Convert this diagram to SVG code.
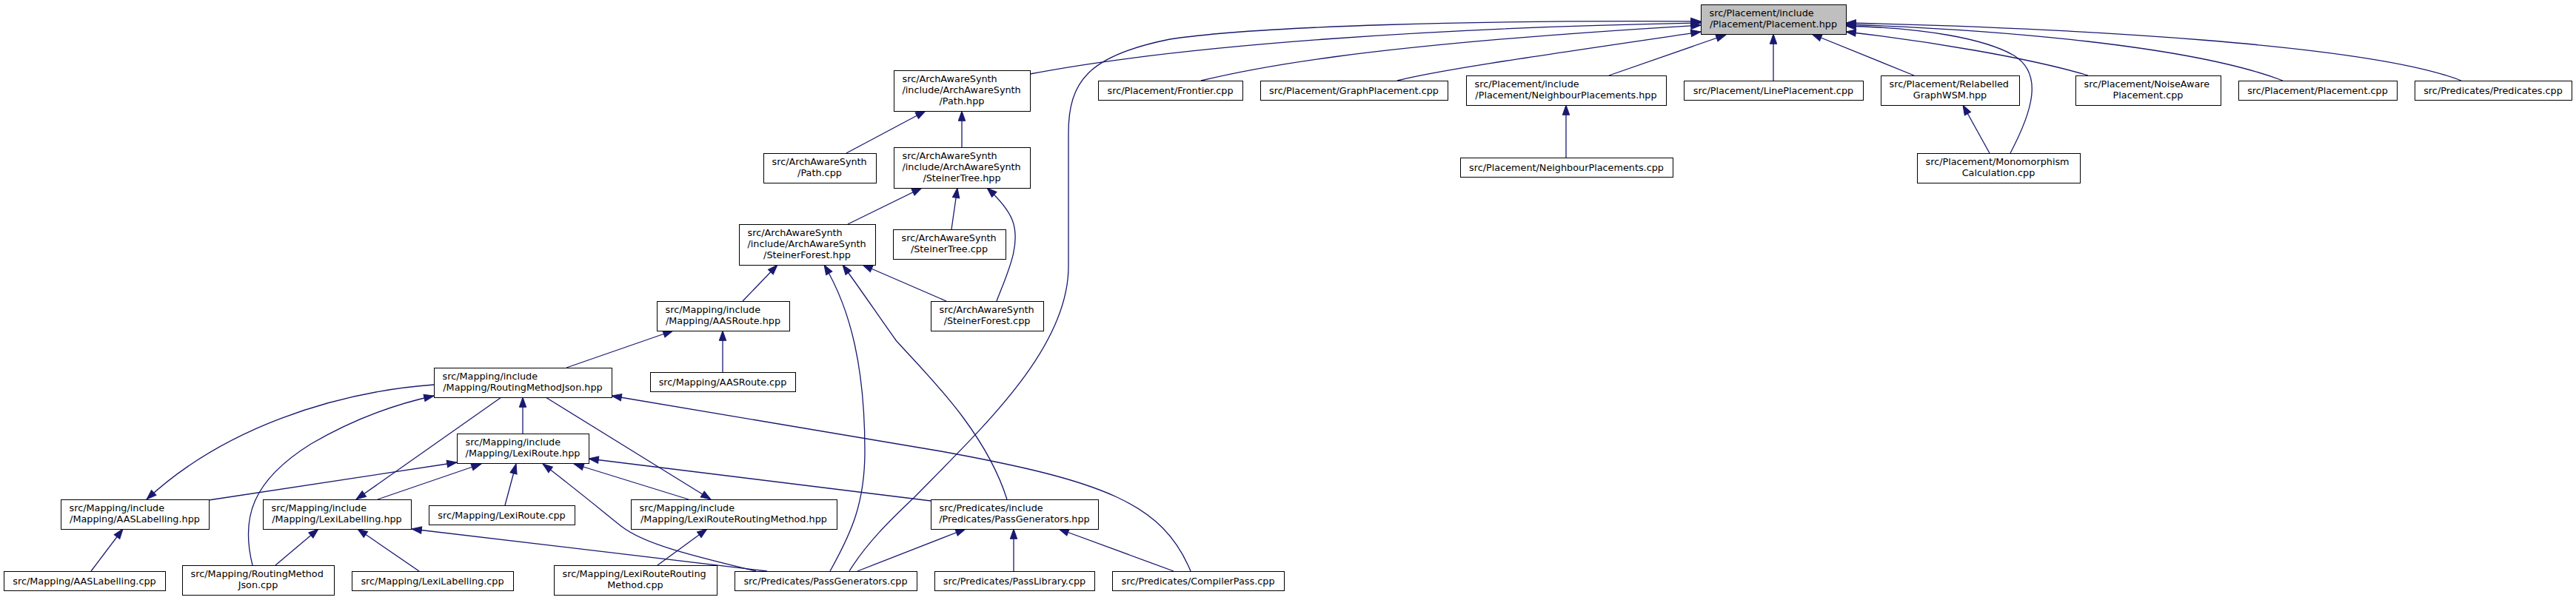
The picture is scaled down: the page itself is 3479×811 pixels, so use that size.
<svg xmlns="http://www.w3.org/2000/svg" width="3479" height="811" viewBox="0 0 3479 811">
<style>
.node rect{fill:#fff;stroke:#000;stroke-width:1}
#n1 rect{fill:#bfbfbf}
text{font-family:"DejaVu Sans","Liberation Sans",sans-serif;font-size:12.8px;fill:#000}
.c{text-anchor:middle}
.edges path{fill:none;stroke:#191970;stroke-width:1.3;marker-end:url(#arr)}
</style>
<defs>
<marker id="arr" markerUnits="userSpaceOnUse" markerWidth="15" markerHeight="11" refX="13.3" refY="4.7" orient="auto" overflow="visible">
<path d="M0,0 L13.3,4.7 L0,9.4 Z" fill="#191970" stroke="#191970" stroke-width="1"/>
</marker>
</defs>
<rect width="3479" height="811" fill="#fff"/>
<g class="edges">
<path d="M1391,100 C1600,60 1950,37 2297,31"/>
<path d="M1147,772 C1170,735 1200,705 1234,673 C1330,575 1443,470 1443,360 L1443,180 C1443,110 1470,75 1580,53 C1700,35 2000,27 2297,29"/>
<path d="M1622,109 C1680,95 1820,62 2297,34"/>
<path d="M1887,109 C1940,95 2080,75 2297,43"/>
<path d="M2173,102 L2331,47"/>
<path d="M2115,213 L2115,142"/>
<path d="M2395,109 L2395,46"/>
<path d="M2585,102 L2447,46"/>
<path d="M2687,207 L2651,142"/>
<path d="M2715,207 C2745,150 2760,100 2720,75 C2680,52 2600,38 2493,35"/>
<path d="M2820,102 C2740,78 2600,55 2493,43"/>
<path d="M3083,109 C2960,62 2700,40 2493,33"/>
<path d="M3324,109 C3200,60 2800,38 2493,31"/>
<path d="M1143,207 L1250,150"/>
<path d="M1299,199 L1299,150"/>
<path d="M1145,303 L1245,254"/>
<path d="M1285,310 L1293,254"/>
<path d="M1346,407 C1360,370 1380,330 1367,297 C1360,280 1345,265 1333,254"/>
<path d="M1003,407 L1050,358"/>
<path d="M1278,407 L1165,358"/>
<path d="M1360,675 C1330,580 1250,505 1210,460 C1185,425 1165,395 1138,358"/>
<path d="M1121,772 C1150,720 1168,680 1168,610 C1168,500 1150,420 1113,358"/>
<path d="M976,503 L976,447"/>
<path d="M765,497 L909,447"/>
<path d="M706,586 L706,537"/>
<path d="M677,537 L481,675"/>
<path d="M737,537 L960,675"/>
<path d="M586,520 C450,530 300,580 198,675"/>
<path d="M341,764 C325,700 340,650 420,600 C480,565 540,545 586,535"/>
<path d="M1608,772 C1570,680 1490,650 1271,610 L826,535"/>
<path d="M282,676 L617,625"/>
<path d="M510,675 L650,627"/>
<path d="M682,683 L697,627"/>
<path d="M1021,772 C930,750 870,735 840,712 C815,692 770,655 733,627"/>
<path d="M930,675 L775,627"/>
<path d="M1257,677 L795,620"/>
<path d="M123,772 L166,715"/>
<path d="M372,764 L430,715"/>
<path d="M566,772 L483,715"/>
<path d="M1036,772 L556,715"/>
<path d="M888,764 L955,715"/>
<path d="M1158,772 L1304,715"/>
<path d="M1369,772 L1369,715"/>
<path d="M1585,772 L1430,715"/>
</g>
<g id="n1" class="node"><rect x="2297.5" y="6.5" width="196" height="40"/><text x="2308.5" y="22">src/Placement/include</text><text class="c" x="2395" y="37">/Placement/Placement.hpp</text></g>
<g id="n2" class="node"><rect x="1207.5" y="95.5" width="184" height="55"/><text x="1218.5" y="111">src/ArchAwareSynth</text><text x="1218.5" y="126">/include/ArchAwareSynth</text><text class="c" x="1299" y="141">/Path.hpp</text></g>
<g id="n3" class="node"><rect x="1483.5" y="109.5" width="195" height="26"/><text class="c" x="1580.5" y="126.5">src/Placement/Frontier.cpp</text></g>
<g id="n4" class="node"><rect x="1702.5" y="109.5" width="253" height="26"/><text class="c" x="1828.5" y="126.5">src/Placement/GraphPlacement.cpp</text></g>
<g id="n5" class="node"><rect x="1980.5" y="102.5" width="270" height="40"/><text x="1991.5" y="118">src/Placement/include</text><text class="c" x="2115" y="133">/Placement/NeighbourPlacements.hpp</text></g>
<g id="n6" class="node"><rect x="2274.5" y="109.5" width="242" height="26"/><text class="c" x="2395" y="126.5">src/Placement/LinePlacement.cpp</text></g>
<g id="n7" class="node"><rect x="2540.5" y="102.5" width="187" height="40"/><text x="2551.5" y="118">src/Placement/Relabelled</text><text class="c" x="2633.5" y="133">GraphWSM.hpp</text></g>
<g id="n8" class="node"><rect x="2803.5" y="102.5" width="196" height="40"/><text x="2814.5" y="118">src/Placement/NoiseAware</text><text class="c" x="2901" y="133">Placement.cpp</text></g>
<g id="n9" class="node"><rect x="3023.5" y="109.5" width="214" height="26"/><text class="c" x="3130" y="126.5">src/Placement/Placement.cpp</text></g>
<g id="n10" class="node"><rect x="3261.5" y="109.5" width="212" height="26"/><text class="c" x="3367" y="126.5">src/Predicates/Predicates.cpp</text></g>
<g id="n11" class="node"><rect x="1031.5" y="207.5" width="152" height="40"/><text x="1042.5" y="223">src/ArchAwareSynth</text><text class="c" x="1107" y="238">/Path.cpp</text></g>
<g id="n12" class="node"><rect x="1207.5" y="199.5" width="184" height="55"/><text x="1218.5" y="215">src/ArchAwareSynth</text><text x="1218.5" y="230">/include/ArchAwareSynth</text><text class="c" x="1299" y="245">/SteinerTree.hpp</text></g>
<g id="n13" class="node"><rect x="1972.5" y="213.5" width="287" height="26"/><text class="c" x="2115.5" y="230.5">src/Placement/NeighbourPlacements.cpp</text></g>
<g id="n14" class="node"><rect x="2589.5" y="207.5" width="220" height="40"/><text x="2600.5" y="223">src/Placement/Monomorphism</text><text class="c" x="2699" y="238">Calculation.cpp</text></g>
<g id="n15" class="node"><rect x="998.5" y="303.5" width="184" height="55"/><text x="1009.5" y="319">src/ArchAwareSynth</text><text x="1009.5" y="334">/include/ArchAwareSynth</text><text class="c" x="1090" y="349">/SteinerForest.hpp</text></g>
<g id="n16" class="node"><rect x="1206.5" y="310.5" width="152" height="40"/><text x="1217.5" y="326">src/ArchAwareSynth</text><text class="c" x="1282" y="341">/SteinerTree.cpp</text></g>
<g id="n17" class="node"><rect x="887.5" y="407.5" width="179" height="40"/><text x="898.5" y="423">src/Mapping/include</text><text class="c" x="976.5" y="438">/Mapping/AASRoute.hpp</text></g>
<g id="n18" class="node"><rect x="1257.5" y="407.5" width="152" height="40"/><text x="1268.5" y="423">src/ArchAwareSynth</text><text class="c" x="1333" y="438">/SteinerForest.cpp</text></g>
<g id="n19" class="node"><rect x="878.5" y="503.5" width="196" height="26"/><text class="c" x="976" y="520.5">src/Mapping/AASRoute.cpp</text></g>
<g id="n20" class="node"><rect x="586.5" y="497.5" width="240" height="40"/><text x="597.5" y="513">src/Mapping/include</text><text class="c" x="706" y="528">/Mapping/RoutingMethodJson.hpp</text></g>
<g id="n21" class="node"><rect x="617.5" y="586.5" width="178" height="40"/><text x="628.5" y="602">src/Mapping/include</text><text class="c" x="706" y="617">/Mapping/LexiRoute.hpp</text></g>
<g id="n22" class="node"><rect x="82.5" y="675.5" width="200" height="40"/><text x="93.5" y="691">src/Mapping/include</text><text class="c" x="182" y="706">/Mapping/AASLabelling.hpp</text></g>
<g id="n23" class="node"><rect x="355.5" y="675.5" width="200" height="40"/><text x="366.5" y="691">src/Mapping/include</text><text class="c" x="455" y="706">/Mapping/LexiLabelling.hpp</text></g>
<g id="n24" class="node"><rect x="579.5" y="683.5" width="197" height="26"/><text class="c" x="677.5" y="700.5">src/Mapping/LexiRoute.cpp</text></g>
<g id="n25" class="node"><rect x="852.5" y="675.5" width="278" height="40"/><text x="863.5" y="691">src/Mapping/include</text><text class="c" x="991" y="706">/Mapping/LexiRouteRoutingMethod.hpp</text></g>
<g id="n26" class="node"><rect x="1257.5" y="675.5" width="226" height="40"/><text x="1268.5" y="691">src/Predicates/include</text><text class="c" x="1370" y="706">/Predicates/PassGenerators.hpp</text></g>
<g id="n27" class="node"><rect x="5.5" y="772.5" width="218" height="26"/><text class="c" x="114" y="789.5">src/Mapping/AASLabelling.cpp</text></g>
<g id="n28" class="node"><rect x="246.5" y="764.5" width="205" height="40"/><text x="257.5" y="780">src/Mapping/RoutingMethod</text><text class="c" x="348.5" y="795">Json.cpp</text></g>
<g id="n29" class="node"><rect x="475.5" y="772.5" width="218" height="26"/><text class="c" x="584" y="789.5">src/Mapping/LexiLabelling.cpp</text></g>
<g id="n30" class="node"><rect x="748.5" y="764.5" width="220" height="40"/><text x="759.5" y="780">src/Mapping/LexiRouteRouting</text><text class="c" x="858" y="795">Method.cpp</text></g>
<g id="n31" class="node"><rect x="992.5" y="772.5" width="246" height="26"/><text class="c" x="1115" y="789.5">src/Predicates/PassGenerators.cpp</text></g>
<g id="n32" class="node"><rect x="1262.5" y="772.5" width="216" height="26"/><text class="c" x="1370" y="789.5">src/Predicates/PassLibrary.cpp</text></g>
<g id="n33" class="node"><rect x="1502.5" y="772.5" width="232" height="26"/><text class="c" x="1618" y="789.5">src/Predicates/CompilerPass.cpp</text></g>
</svg>
